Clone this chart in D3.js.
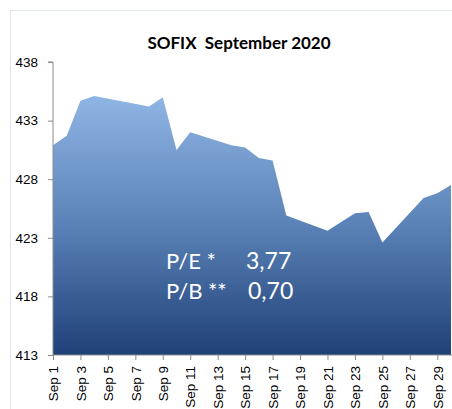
<!DOCTYPE html>
<html>
<head>
<meta charset="utf-8">
<script src="https://cdn.jsdelivr.net/npm/d3@7"></script>
<style>
  html, body { margin: 0; padding: 0; background: #fff; }
  svg { display: block; font-family: Lato, "Noto Sans", sans-serif; }
</style>
</head>
<body>
<svg id="chart"></svg>
<script>
// trading days of September 2020 and SOFIX closing values
const days = [1, 2, 3, 4, 8, 9, 10, 11, 14, 15, 16, 17, 18, 21, 23, 24, 25, 28, 29, 30]
const values = [430.9, 431.7, 434.7, 435.1, 434.2, 435.0, 430.5, 432.0, 430.9, 430.7,
  429.8, 429.6, 424.9, 423.6, 425.1, 425.2, 422.6, 426.4, 426.8, 427.5]

// y axis ticks
const yTicks = [413, 418, 423, 428, 433, 438]

// x axis tick days (labels every second day)
const xTickDays = [1, 3, 5, 7, 9, 11, 13, 15, 17, 19, 21, 23, 25, 27, 29]

const title = 'SOFIX  September 2020'
const notes = [
  { label: 'P/E *', value: '3,77' },
  { label: 'P/B **', value: '0,70' }
]

const width = 452
const height = 409
const margin = { top: 62, right: 1, bottom: 54, left: 53 }

const svg = d3.select('#chart')
  .attr('width', width)
  .attr('height', height)

// outer chart border
svg.append('rect')
  .attr('x', 10.5)
  .attr('y', 10.5)
  .attr('width', width)
  .attr('height', height)
  .attr('fill', '#fff')
  .attr('stroke', '#dfe5ee')

const date = d => new Date(2020, 8, d)
const data = days.map((d, i) => ({ date: date(d), value: values[i] }))

const x = d3.scaleTime()
  .domain([date(1), date(30)])
  .range([margin.left, width - margin.right])

const y = d3.scaleLinear()
  .domain([413, 438])
  .range([height - margin.bottom, margin.top])

const defs = svg.append('defs')
const grad = defs.append('linearGradient')
  .attr('id', 'fillGrad')
  .attr('gradientUnits', 'userSpaceOnUse')
  .attr('x1', 0).attr('x2', 0)
  .attr('y1', y(d3.max(values)))
  .attr('y2', y(413))
grad.append('stop').attr('offset', '0%').attr('stop-color', '#8fb5e4')
grad.append('stop').attr('offset', '50%').attr('stop-color', '#5a82b6')
grad.append('stop').attr('offset', '100%').attr('stop-color', '#1f4077')

const area = d3.area()
  .x(d => x(d.date))
  .y0(y(413))
  .y1(d => y(d.value))

svg.append('path')
  .datum(data)
  .attr('d', area)
  .attr('fill', 'url(#fillGrad)')

// axes
const yAxis = d3.axisLeft(y)
  .tickValues(yTicks)
  .tickSize(5)
  .tickPadding(10)
  .tickFormat(d3.format('d'))

const xAxis = d3.axisBottom(x)
  .tickValues(xTickDays.map(date))
  .tickSize(5)
  .tickPadding(6)
  .tickFormat(d3.timeFormat('Sep %-d'))

const gy = svg.append('g')
  .attr('transform', `translate(${margin.left}, 0)`)
  .call(yAxis)

gy.select('.domain').attr('stroke', '#8c8c8c').attr('d', `M-5,${y(438)}H0V${y(413)}`)
gy.selectAll('.tick line').attr('stroke', '#8c8c8c')
gy.selectAll('.tick text')
  .attr('fill', '#000')
  .style('font-size', '13.5px')

const gx = svg.append('g')
  .attr('transform', `translate(0, ${y(413)})`)
  .call(xAxis)

gx.select('.domain').attr('stroke', '#8c8c8c').attr('d', `M${margin.left},0H${width}`)
gx.selectAll('.tick line').attr('stroke', '#8c8c8c')
gx.selectAll('.tick text')
  .attr('fill', '#000')
  .style('font-size', '13.5px')
  .attr('text-anchor', 'end')
  .attr('dy', '0.35em')
  .attr('transform', 'rotate(-90)')
  .attr('x', -11)
  .attr('y', 0)

// title
svg.append('text')
  .attr('x', 239)
  .attr('y', 48.5)
  .attr('text-anchor', 'middle')
  .style('font-size', '17px')
  .style('font-weight', 'bold')
  .style('white-space', 'pre')
  .text(title)

// valuation notes
const note = svg.append('g')
  .style('font-size', '22px')
  .style('white-space', 'pre')
  .attr('fill', '#fff')

note.selectAll('.label')
  .data(notes)
  .enter().append('text')
  .attr('class', 'label')
  .attr('x', 166)
  .attr('y', (d, i) => 269 + i * 30)
  .text(d => d.label)

note.selectAll('.value')
  .data(notes)
  .enter().append('text')
  .attr('class', 'value')
  .attr('x', (d, i) => i === 0 ? 246 : 248)
  .attr('y', (d, i) => 269 + i * 30)
  .style('font-size', '23px')
  .text(d => d.value)
</script>
</body>
</html>
